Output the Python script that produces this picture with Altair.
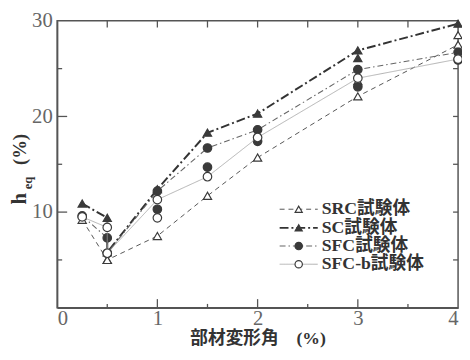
import altair as alt
import pandas as pd

# ---- data ----
SERIES = ["SRC試験体", "SC試験体", "SFC試験体", "SFC-b試験体"]
X_LINE = [0.25, 0.5, 0.5, 1, 1.5, 2, 3, 4]
SRC_Y = [9.2, 5.0, 5.0, 7.5, 11.7, 15.7, 22.1, 27.5]
SC_Y = [10.9, 9.4, 5.8, 12.4, 18.3, 20.3, 26.9, 29.7]
SFC_Y = [9.6, 7.3, 5.7, 12.2, 16.7, 18.6, 24.9, 26.7]
SFCB_Y = [9.5, 8.4, 5.7, 11.3, 13.7, 17.8, 24.0, 26.0]

SRC_EX_X = [3, 4]
SRC_EX_Y = [23.7, 28.5]
SC_EX_X = [3]
SC_EX_Y = [26.1]
SFC_EX_X = [1, 1.5, 2, 3, 4]
SFC_EX_Y = [10.3, 14.7, 17.4, 23.1, 25.9]
SFCB_EX_X = [1]
SFCB_EX_Y = [9.4]

X_LABELS = [0, 1, 2, 3, 4]
Y_LABELS = [10, 20, 30]
X_TICKS = [0.5, 1, 1.5, 2, 2.5, 3, 3.5]
Y_TICKS = [5, 10, 15, 20, 25]

# legend placement (data units)
LEG_Y = [10.3, 8.35, 6.45, 4.55]
LEG_X0, LEG_XM, LEG_X1, LEG_XT = 2.22, 2.41, 2.60, 2.64

SERIF = "Liberation Serif, Noto Sans CJK JP"

STYLES = {
    "SRC試験体": dict(dash=[5, 4], width=1.0, color="#555555", shape="triangle-up", filled=False),
    "SC試験体": dict(dash=[9, 3, 2, 3], width=2.0, color="#333333", shape="triangle-up", filled=True),
    "SFC試験体": dict(dash=[6, 3, 1.5, 3], width=1.1, color="#666666", shape="circle", filled=True),
    "SFC-b試験体": dict(dash=[1, 0], width=0.8, color="#a0a0a0", shape="circle", filled=False),
}
LINES = {"SRC試験体": SRC_Y, "SC試験体": SC_Y, "SFC試験体": SFC_Y, "SFC-b試験体": SFCB_Y}
EXTRA = {
    "SRC試験体": (SRC_EX_X, SRC_EX_Y),
    "SC試験体": (SC_EX_X, SC_EX_Y),
    "SFC試験体": (SFC_EX_X, SFC_EX_Y),
    "SFC-b試験体": (SFCB_EX_X, SFCB_EX_Y),
}

xs = alt.Scale(domain=[0, 4], nice=False, zero=False)
ys = alt.Scale(domain=[0, 30], nice=False, zero=False)

layers = []

# base (axes)
axis_df = pd.DataFrame({"x": [0], "y": [0]})
base = alt.Chart(axis_df).mark_point(opacity=0).encode(
    x=alt.X("x:Q", scale=xs,
            axis=alt.Axis(values=X_LABELS, format="d", tickSize=0, grid=False,
                          labelFontSize=21, labelFont=SERIF, labelColor="#666666",
                          labelPadding=0, domainColor="#555555", domainWidth=1.5,
                          title="部材変形角　(%)", titleFont=SERIF, titleFontSize=18,
                          titleFontWeight="bold", titleColor="#333333", titlePadding=1)),
    y=alt.Y("y:Q", scale=ys,
            axis=alt.Axis(values=Y_LABELS, format="d", tickSize=0, grid=False,
                          labelFontSize=21, labelFont=SERIF, labelColor="#666666",
                          labelPadding=5, domainColor="#555555", domainWidth=1.5),
            title=None),
)
layers.append(base)

# inward ticks
tick_rows = []
for t in X_TICKS:
    major = float(t).is_integer()
    tick_rows.append({"x": t, "x2": t, "y": 0, "y2": 0.9 if major else 0.4})
    tick_rows.append({"x": t, "x2": t, "y": 30, "y2": 29.3})
for t in Y_TICKS:
    major = t % 10 == 0
    tick_rows.append({"x": 0, "x2": 0.1 if major else 0.05, "y": t, "y2": t})
    tick_rows.append({"x": 4, "x2": 3.95, "y": t, "y2": t})
ticks = alt.Chart(pd.DataFrame(tick_rows)).mark_rule(color="#555555", strokeWidth=1.3).encode(
    x=alt.X("x:Q", scale=xs), x2="x2:Q", y=alt.Y("y:Q", scale=ys), y2="y2:Q")
layers.append(ticks)

for k, name in enumerate(SERIES):
    st = STYLES[name]
    ldf = pd.DataFrame({"x": X_LINE, "y": LINES[name], "i": list(range(len(X_LINE)))})
    layers.append(
        alt.Chart(ldf).mark_line(color=st["color"], strokeWidth=st["width"], strokeDash=st["dash"]).encode(
            x=alt.X("x:Q", scale=xs), y=alt.Y("y:Q", scale=ys), order="i:Q"))
    ex_x, ex_y = EXTRA[name]
    pdf = pd.DataFrame({"x": X_LINE + ex_x, "y": LINES[name] + ex_y})
    size = 75 if st["shape"] == "circle" else 70
    layers.append(
        alt.Chart(pdf).mark_point(shape=st["shape"], filled=st["filled"], size=size,
                                  fill="#3a3a3a" if st["filled"] else "white",
                                  stroke="#3a3a3a", strokeWidth=1.2, opacity=1).encode(
            x=alt.X("x:Q", scale=xs), y=alt.Y("y:Q", scale=ys)))

    # legend
    lg = pd.DataFrame({"x": [LEG_X0, LEG_X1], "y": [LEG_Y[k], LEG_Y[k]]})
    layers.append(
        alt.Chart(lg).mark_line(color=st["color"], strokeWidth=st["width"], strokeDash=st["dash"]).encode(
            x=alt.X("x:Q", scale=xs), y=alt.Y("y:Q", scale=ys)))
    lm = pd.DataFrame({"x": [LEG_XM], "y": [LEG_Y[k]]})
    layers.append(
        alt.Chart(lm).mark_point(shape=st["shape"], filled=st["filled"], size=size * 0.75,
                                 fill="#3a3a3a" if st["filled"] else "white",
                                 stroke="#3a3a3a", strokeWidth=1.2, opacity=1).encode(
            x=alt.X("x:Q", scale=xs), y=alt.Y("y:Q", scale=ys)))
    lt = pd.DataFrame({"x": [LEG_XT], "y": [LEG_Y[k]], "t": [name]})
    layers.append(
        alt.Chart(lt).mark_text(align="left", baseline="middle", font=SERIF, fontSize=18,
                                fontWeight="bold", color="#333333").encode(
            x=alt.X("x:Q", scale=xs), y=alt.Y("y:Q", scale=ys), text="t:N"))

# y-axis title pieces: h, eq (subscript), (%)
YT_TEXT = ["h", "eq", "(%)"]
YT_SIZE = [21, 13, 19]
YT_POS = [(-38, 181), (-30, 165), (-38, 131)]
for txt, fs, (px, py) in zip(YT_TEXT, YT_SIZE, YT_POS):
    layers.append(
        alt.Chart(axis_df).mark_text(text=txt, angle=270, align="center", baseline="middle",
                                     font=SERIF, fontSize=fs, fontWeight="bold",
                                     color="#333333").encode(
            x=alt.value(px), y=alt.value(py)))

chart = alt.layer(*layers).properties(
    width=408, height=292,
    autosize=alt.AutoSizeParams(type="none"),
    padding={"left": 50, "top": 10, "right": 4, "bottom": 42},
    background="white",
).configure_view(stroke="#555555", strokeWidth=1.5)

chart.save("out.html", embed_options={"renderer": "svg", "actions": False})
